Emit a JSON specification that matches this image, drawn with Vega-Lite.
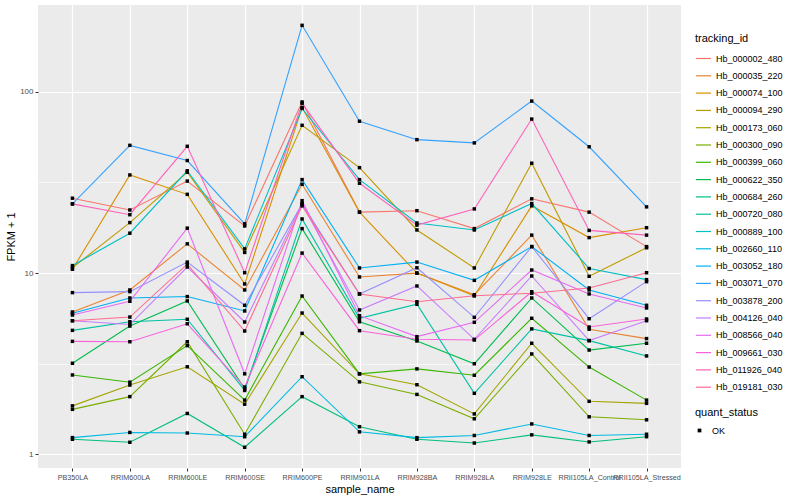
{
"$schema": "https://vega.github.io/schema/vega-lite/v6.json",
"width": 643,
"height": 463,
"padding": {"left": 5, "top": 5, "right": 5, "bottom": 5},
"config": {
  "font": "Liberation Sans",
  "view": {"fill": "#EBEBEB", "stroke": null},
  "axis": {"domain": false, "grid": true, "gridColor": "#FFFFFF", "gridWidth": 1.2, "tickColor": "#333333", "tickSize": 3, "labelColor": "#4D4D4D", "labelFontSize": 8, "titleFontSize": 11, "titleFontWeight": "normal", "titleColor": "#000000", "labelPadding": 2, "titlePadding": 3}
},
"data": {"values": [
{"tracking_id":"Hb_000002_480","sample_name":"PB350LA","FPKM":25.9,"quant_status":"OK"},
{"tracking_id":"Hb_000002_480","sample_name":"RRIM600LA","FPKM":22.3,"quant_status":"OK"},
{"tracking_id":"Hb_000002_480","sample_name":"RRIM600LE","FPKM":32.2,"quant_status":"OK"},
{"tracking_id":"Hb_000002_480","sample_name":"RRIM600SE","FPKM":18.2,"quant_status":"OK"},
{"tracking_id":"Hb_000002_480","sample_name":"RRIM600PE","FPKM":88,"quant_status":"OK"},
{"tracking_id":"Hb_000002_480","sample_name":"RRIM901LA","FPKM":21.7,"quant_status":"OK"},
{"tracking_id":"Hb_000002_480","sample_name":"RRIM928BA","FPKM":22.1,"quant_status":"OK"},
{"tracking_id":"Hb_000002_480","sample_name":"RRIM928LA","FPKM":17.6,"quant_status":"OK"},
{"tracking_id":"Hb_000002_480","sample_name":"RRIM928LE","FPKM":25.7,"quant_status":"OK"},
{"tracking_id":"Hb_000002_480","sample_name":"RRII105LA_Control","FPKM":21.7,"quant_status":"OK"},
{"tracking_id":"Hb_000002_480","sample_name":"RRII105LA_Stressed","FPKM":14.0,"quant_status":"OK"},
{"tracking_id":"Hb_000035_220","sample_name":"PB350LA","FPKM":6.1,"quant_status":"OK"},
{"tracking_id":"Hb_000035_220","sample_name":"RRIM600LA","FPKM":8.07,"quant_status":"OK"},
{"tracking_id":"Hb_000035_220","sample_name":"RRIM600LE","FPKM":14.5,"quant_status":"OK"},
{"tracking_id":"Hb_000035_220","sample_name":"RRIM600SE","FPKM":8.07,"quant_status":"OK"},
{"tracking_id":"Hb_000035_220","sample_name":"RRIM600PE","FPKM":30.9,"quant_status":"OK"},
{"tracking_id":"Hb_000035_220","sample_name":"RRIM901LA","FPKM":9.52,"quant_status":"OK"},
{"tracking_id":"Hb_000035_220","sample_name":"RRIM928BA","FPKM":10.0,"quant_status":"OK"},
{"tracking_id":"Hb_000035_220","sample_name":"RRIM928LA","FPKM":7.6,"quant_status":"OK"},
{"tracking_id":"Hb_000035_220","sample_name":"RRIM928LE","FPKM":16.2,"quant_status":"OK"},
{"tracking_id":"Hb_000035_220","sample_name":"RRII105LA_Control","FPKM":4.9,"quant_status":"OK"},
{"tracking_id":"Hb_000035_220","sample_name":"RRII105LA_Stressed","FPKM":4.35,"quant_status":"OK"},
{"tracking_id":"Hb_000074_100","sample_name":"PB350LA","FPKM":10.5,"quant_status":"OK"},
{"tracking_id":"Hb_000074_100","sample_name":"RRIM600LA","FPKM":34.8,"quant_status":"OK"},
{"tracking_id":"Hb_000074_100","sample_name":"RRIM600LE","FPKM":27.2,"quant_status":"OK"},
{"tracking_id":"Hb_000074_100","sample_name":"RRIM600SE","FPKM":8.71,"quant_status":"OK"},
{"tracking_id":"Hb_000074_100","sample_name":"RRIM600PE","FPKM":82,"quant_status":"OK"},
{"tracking_id":"Hb_000074_100","sample_name":"RRIM901LA","FPKM":21.7,"quant_status":"OK"},
{"tracking_id":"Hb_000074_100","sample_name":"RRIM928BA","FPKM":10.0,"quant_status":"OK"},
{"tracking_id":"Hb_000074_100","sample_name":"RRIM928LA","FPKM":7.5,"quant_status":"OK"},
{"tracking_id":"Hb_000074_100","sample_name":"RRIM928LE","FPKM":23.5,"quant_status":"OK"},
{"tracking_id":"Hb_000074_100","sample_name":"RRII105LA_Control","FPKM":15.7,"quant_status":"OK"},
{"tracking_id":"Hb_000074_100","sample_name":"RRII105LA_Stressed","FPKM":17.8,"quant_status":"OK"},
{"tracking_id":"Hb_000094_290","sample_name":"PB350LA","FPKM":10.7,"quant_status":"OK"},
{"tracking_id":"Hb_000094_290","sample_name":"RRIM600LA","FPKM":19.0,"quant_status":"OK"},
{"tracking_id":"Hb_000094_290","sample_name":"RRIM600LE","FPKM":36.0,"quant_status":"OK"},
{"tracking_id":"Hb_000094_290","sample_name":"RRIM600SE","FPKM":13.0,"quant_status":"OK"},
{"tracking_id":"Hb_000094_290","sample_name":"RRIM600PE","FPKM":65.4,"quant_status":"OK"},
{"tracking_id":"Hb_000094_290","sample_name":"RRIM901LA","FPKM":38.2,"quant_status":"OK"},
{"tracking_id":"Hb_000094_290","sample_name":"RRIM928BA","FPKM":17.3,"quant_status":"OK"},
{"tracking_id":"Hb_000094_290","sample_name":"RRIM928LA","FPKM":10.67,"quant_status":"OK"},
{"tracking_id":"Hb_000094_290","sample_name":"RRIM928LE","FPKM":40.4,"quant_status":"OK"},
{"tracking_id":"Hb_000094_290","sample_name":"RRII105LA_Control","FPKM":9.6,"quant_status":"OK"},
{"tracking_id":"Hb_000094_290","sample_name":"RRII105LA_Stressed","FPKM":13.8,"quant_status":"OK"},
{"tracking_id":"Hb_000173_060","sample_name":"PB350LA","FPKM":1.85,"quant_status":"OK"},
{"tracking_id":"Hb_000173_060","sample_name":"RRIM600LA","FPKM":2.41,"quant_status":"OK"},
{"tracking_id":"Hb_000173_060","sample_name":"RRIM600LE","FPKM":3.04,"quant_status":"OK"},
{"tracking_id":"Hb_000173_060","sample_name":"RRIM600SE","FPKM":1.89,"quant_status":"OK"},
{"tracking_id":"Hb_000173_060","sample_name":"RRIM600PE","FPKM":6.02,"quant_status":"OK"},
{"tracking_id":"Hb_000173_060","sample_name":"RRIM901LA","FPKM":2.78,"quant_status":"OK"},
{"tracking_id":"Hb_000173_060","sample_name":"RRIM928BA","FPKM":2.42,"quant_status":"OK"},
{"tracking_id":"Hb_000173_060","sample_name":"RRIM928LA","FPKM":1.67,"quant_status":"OK"},
{"tracking_id":"Hb_000173_060","sample_name":"RRIM928LE","FPKM":4.10,"quant_status":"OK"},
{"tracking_id":"Hb_000173_060","sample_name":"RRII105LA_Control","FPKM":1.96,"quant_status":"OK"},
{"tracking_id":"Hb_000173_060","sample_name":"RRII105LA_Stressed","FPKM":1.91,"quant_status":"OK"},
{"tracking_id":"Hb_000300_090","sample_name":"PB350LA","FPKM":1.77,"quant_status":"OK"},
{"tracking_id":"Hb_000300_090","sample_name":"RRIM600LA","FPKM":2.08,"quant_status":"OK"},
{"tracking_id":"Hb_000300_090","sample_name":"RRIM600LE","FPKM":4.18,"quant_status":"OK"},
{"tracking_id":"Hb_000300_090","sample_name":"RRIM600SE","FPKM":1.29,"quant_status":"OK"},
{"tracking_id":"Hb_000300_090","sample_name":"RRIM600PE","FPKM":4.65,"quant_status":"OK"},
{"tracking_id":"Hb_000300_090","sample_name":"RRIM901LA","FPKM":2.51,"quant_status":"OK"},
{"tracking_id":"Hb_000300_090","sample_name":"RRIM928BA","FPKM":2.14,"quant_status":"OK"},
{"tracking_id":"Hb_000300_090","sample_name":"RRIM928LA","FPKM":1.57,"quant_status":"OK"},
{"tracking_id":"Hb_000300_090","sample_name":"RRIM928LE","FPKM":3.58,"quant_status":"OK"},
{"tracking_id":"Hb_000300_090","sample_name":"RRII105LA_Control","FPKM":1.61,"quant_status":"OK"},
{"tracking_id":"Hb_000300_090","sample_name":"RRII105LA_Stressed","FPKM":1.55,"quant_status":"OK"},
{"tracking_id":"Hb_000399_060","sample_name":"PB350LA","FPKM":2.74,"quant_status":"OK"},
{"tracking_id":"Hb_000399_060","sample_name":"RRIM600LA","FPKM":2.50,"quant_status":"OK"},
{"tracking_id":"Hb_000399_060","sample_name":"RRIM600LE","FPKM":3.98,"quant_status":"OK"},
{"tracking_id":"Hb_000399_060","sample_name":"RRIM600SE","FPKM":1.99,"quant_status":"OK"},
{"tracking_id":"Hb_000399_060","sample_name":"RRIM600PE","FPKM":7.47,"quant_status":"OK"},
{"tracking_id":"Hb_000399_060","sample_name":"RRIM901LA","FPKM":2.78,"quant_status":"OK"},
{"tracking_id":"Hb_000399_060","sample_name":"RRIM928BA","FPKM":2.96,"quant_status":"OK"},
{"tracking_id":"Hb_000399_060","sample_name":"RRIM928LA","FPKM":2.73,"quant_status":"OK"},
{"tracking_id":"Hb_000399_060","sample_name":"RRIM928LE","FPKM":5.63,"quant_status":"OK"},
{"tracking_id":"Hb_000399_060","sample_name":"RRII105LA_Control","FPKM":3.03,"quant_status":"OK"},
{"tracking_id":"Hb_000399_060","sample_name":"RRII105LA_Stressed","FPKM":1.99,"quant_status":"OK"},
{"tracking_id":"Hb_000622_350","sample_name":"PB350LA","FPKM":3.18,"quant_status":"OK"},
{"tracking_id":"Hb_000622_350","sample_name":"RRIM600LA","FPKM":5.1,"quant_status":"OK"},
{"tracking_id":"Hb_000622_350","sample_name":"RRIM600LE","FPKM":7.02,"quant_status":"OK"},
{"tracking_id":"Hb_000622_350","sample_name":"RRIM600SE","FPKM":2.3,"quant_status":"OK"},
{"tracking_id":"Hb_000622_350","sample_name":"RRIM600PE","FPKM":17.6,"quant_status":"OK"},
{"tracking_id":"Hb_000622_350","sample_name":"RRIM901LA","FPKM":5.39,"quant_status":"OK"},
{"tracking_id":"Hb_000622_350","sample_name":"RRIM928BA","FPKM":4.22,"quant_status":"OK"},
{"tracking_id":"Hb_000622_350","sample_name":"RRIM928LA","FPKM":3.16,"quant_status":"OK"},
{"tracking_id":"Hb_000622_350","sample_name":"RRIM928LE","FPKM":7.29,"quant_status":"OK"},
{"tracking_id":"Hb_000622_350","sample_name":"RRII105LA_Control","FPKM":3.76,"quant_status":"OK"},
{"tracking_id":"Hb_000622_350","sample_name":"RRII105LA_Stressed","FPKM":4.10,"quant_status":"OK"},
{"tracking_id":"Hb_000684_260","sample_name":"PB350LA","FPKM":1.21,"quant_status":"OK"},
{"tracking_id":"Hb_000684_260","sample_name":"RRIM600LA","FPKM":1.165,"quant_status":"OK"},
{"tracking_id":"Hb_000684_260","sample_name":"RRIM600LE","FPKM":1.68,"quant_status":"OK"},
{"tracking_id":"Hb_000684_260","sample_name":"RRIM600SE","FPKM":1.093,"quant_status":"OK"},
{"tracking_id":"Hb_000684_260","sample_name":"RRIM600PE","FPKM":2.08,"quant_status":"OK"},
{"tracking_id":"Hb_000684_260","sample_name":"RRIM901LA","FPKM":1.42,"quant_status":"OK"},
{"tracking_id":"Hb_000684_260","sample_name":"RRIM928BA","FPKM":1.21,"quant_status":"OK"},
{"tracking_id":"Hb_000684_260","sample_name":"RRIM928LA","FPKM":1.154,"quant_status":"OK"},
{"tracking_id":"Hb_000684_260","sample_name":"RRIM928LE","FPKM":1.28,"quant_status":"OK"},
{"tracking_id":"Hb_000684_260","sample_name":"RRII105LA_Control","FPKM":1.17,"quant_status":"OK"},
{"tracking_id":"Hb_000684_260","sample_name":"RRII105LA_Stressed","FPKM":1.25,"quant_status":"OK"},
{"tracking_id":"Hb_000720_080","sample_name":"PB350LA","FPKM":4.83,"quant_status":"OK"},
{"tracking_id":"Hb_000720_080","sample_name":"RRIM600LA","FPKM":5.39,"quant_status":"OK"},
{"tracking_id":"Hb_000720_080","sample_name":"RRIM600LE","FPKM":5.56,"quant_status":"OK"},
{"tracking_id":"Hb_000720_080","sample_name":"RRIM600SE","FPKM":2.25,"quant_status":"OK"},
{"tracking_id":"Hb_000720_080","sample_name":"RRIM600PE","FPKM":19.9,"quant_status":"OK"},
{"tracking_id":"Hb_000720_080","sample_name":"RRIM901LA","FPKM":5.63,"quant_status":"OK"},
{"tracking_id":"Hb_000720_080","sample_name":"RRIM928BA","FPKM":6.73,"quant_status":"OK"},
{"tracking_id":"Hb_000720_080","sample_name":"RRIM928LA","FPKM":2.17,"quant_status":"OK"},
{"tracking_id":"Hb_000720_080","sample_name":"RRIM928LE","FPKM":4.92,"quant_status":"OK"},
{"tracking_id":"Hb_000720_080","sample_name":"RRII105LA_Control","FPKM":4.24,"quant_status":"OK"},
{"tracking_id":"Hb_000720_080","sample_name":"RRII105LA_Stressed","FPKM":3.49,"quant_status":"OK"},
{"tracking_id":"Hb_000889_100","sample_name":"PB350LA","FPKM":11.0,"quant_status":"OK"},
{"tracking_id":"Hb_000889_100","sample_name":"RRIM600LA","FPKM":16.6,"quant_status":"OK"},
{"tracking_id":"Hb_000889_100","sample_name":"RRIM600LE","FPKM":36.7,"quant_status":"OK"},
{"tracking_id":"Hb_000889_100","sample_name":"RRIM600SE","FPKM":13.6,"quant_status":"OK"},
{"tracking_id":"Hb_000889_100","sample_name":"RRIM600PE","FPKM":81,"quant_status":"OK"},
{"tracking_id":"Hb_000889_100","sample_name":"RRIM901LA","FPKM":32.8,"quant_status":"OK"},
{"tracking_id":"Hb_000889_100","sample_name":"RRIM928BA","FPKM":18.9,"quant_status":"OK"},
{"tracking_id":"Hb_000889_100","sample_name":"RRIM928LA","FPKM":17.3,"quant_status":"OK"},
{"tracking_id":"Hb_000889_100","sample_name":"RRIM928LE","FPKM":24.2,"quant_status":"OK"},
{"tracking_id":"Hb_000889_100","sample_name":"RRII105LA_Control","FPKM":10.6,"quant_status":"OK"},
{"tracking_id":"Hb_000889_100","sample_name":"RRII105LA_Stressed","FPKM":9.2,"quant_status":"OK"},
{"tracking_id":"Hb_002660_110","sample_name":"PB350LA","FPKM":1.236,"quant_status":"OK"},
{"tracking_id":"Hb_002660_110","sample_name":"RRIM600LA","FPKM":1.32,"quant_status":"OK"},
{"tracking_id":"Hb_002660_110","sample_name":"RRIM600LE","FPKM":1.31,"quant_status":"OK"},
{"tracking_id":"Hb_002660_110","sample_name":"RRIM600SE","FPKM":1.25,"quant_status":"OK"},
{"tracking_id":"Hb_002660_110","sample_name":"RRIM600PE","FPKM":2.68,"quant_status":"OK"},
{"tracking_id":"Hb_002660_110","sample_name":"RRIM901LA","FPKM":1.33,"quant_status":"OK"},
{"tracking_id":"Hb_002660_110","sample_name":"RRIM928BA","FPKM":1.235,"quant_status":"OK"},
{"tracking_id":"Hb_002660_110","sample_name":"RRIM928LA","FPKM":1.27,"quant_status":"OK"},
{"tracking_id":"Hb_002660_110","sample_name":"RRIM928LE","FPKM":1.47,"quant_status":"OK"},
{"tracking_id":"Hb_002660_110","sample_name":"RRII105LA_Control","FPKM":1.27,"quant_status":"OK"},
{"tracking_id":"Hb_002660_110","sample_name":"RRII105LA_Stressed","FPKM":1.29,"quant_status":"OK"},
{"tracking_id":"Hb_003052_180","sample_name":"PB350LA","FPKM":6.0,"quant_status":"OK"},
{"tracking_id":"Hb_003052_180","sample_name":"RRIM600LA","FPKM":7.29,"quant_status":"OK"},
{"tracking_id":"Hb_003052_180","sample_name":"RRIM600LE","FPKM":7.42,"quant_status":"OK"},
{"tracking_id":"Hb_003052_180","sample_name":"RRIM600SE","FPKM":6.18,"quant_status":"OK"},
{"tracking_id":"Hb_003052_180","sample_name":"RRIM600PE","FPKM":32.8,"quant_status":"OK"},
{"tracking_id":"Hb_003052_180","sample_name":"RRIM901LA","FPKM":10.67,"quant_status":"OK"},
{"tracking_id":"Hb_003052_180","sample_name":"RRIM928BA","FPKM":11.5,"quant_status":"OK"},
{"tracking_id":"Hb_003052_180","sample_name":"RRIM928LA","FPKM":9.12,"quant_status":"OK"},
{"tracking_id":"Hb_003052_180","sample_name":"RRIM928LE","FPKM":14.0,"quant_status":"OK"},
{"tracking_id":"Hb_003052_180","sample_name":"RRII105LA_Control","FPKM":8.07,"quant_status":"OK"},
{"tracking_id":"Hb_003052_180","sample_name":"RRII105LA_Stressed","FPKM":6.64,"quant_status":"OK"},
{"tracking_id":"Hb_003071_070","sample_name":"PB350LA","FPKM":24.1,"quant_status":"OK"},
{"tracking_id":"Hb_003071_070","sample_name":"RRIM600LA","FPKM":50.7,"quant_status":"OK"},
{"tracking_id":"Hb_003071_070","sample_name":"RRIM600LE","FPKM":41.8,"quant_status":"OK"},
{"tracking_id":"Hb_003071_070","sample_name":"RRIM600SE","FPKM":18.7,"quant_status":"OK"},
{"tracking_id":"Hb_003071_070","sample_name":"RRIM600PE","FPKM":233,"quant_status":"OK"},
{"tracking_id":"Hb_003071_070","sample_name":"RRIM901LA","FPKM":68.9,"quant_status":"OK"},
{"tracking_id":"Hb_003071_070","sample_name":"RRIM928BA","FPKM":54.5,"quant_status":"OK"},
{"tracking_id":"Hb_003071_070","sample_name":"RRIM928LA","FPKM":52.3,"quant_status":"OK"},
{"tracking_id":"Hb_003071_070","sample_name":"RRIM928LE","FPKM":89,"quant_status":"OK"},
{"tracking_id":"Hb_003071_070","sample_name":"RRII105LA_Control","FPKM":49.8,"quant_status":"OK"},
{"tracking_id":"Hb_003071_070","sample_name":"RRII105LA_Stressed","FPKM":23.2,"quant_status":"OK"},
{"tracking_id":"Hb_003878_200","sample_name":"PB350LA","FPKM":7.8,"quant_status":"OK"},
{"tracking_id":"Hb_003878_200","sample_name":"RRIM600LA","FPKM":7.9,"quant_status":"OK"},
{"tracking_id":"Hb_003878_200","sample_name":"RRIM600LE","FPKM":11.5,"quant_status":"OK"},
{"tracking_id":"Hb_003878_200","sample_name":"RRIM600SE","FPKM":6.64,"quant_status":"OK"},
{"tracking_id":"Hb_003878_200","sample_name":"RRIM600PE","FPKM":24.1,"quant_status":"OK"},
{"tracking_id":"Hb_003878_200","sample_name":"RRIM901LA","FPKM":7.67,"quant_status":"OK"},
{"tracking_id":"Hb_003878_200","sample_name":"RRIM928BA","FPKM":10.7,"quant_status":"OK"},
{"tracking_id":"Hb_003878_200","sample_name":"RRIM928LA","FPKM":5.70,"quant_status":"OK"},
{"tracking_id":"Hb_003878_200","sample_name":"RRIM928LE","FPKM":14.0,"quant_status":"OK"},
{"tracking_id":"Hb_003878_200","sample_name":"RRII105LA_Control","FPKM":5.60,"quant_status":"OK"},
{"tracking_id":"Hb_003878_200","sample_name":"RRII105LA_Stressed","FPKM":8.97,"quant_status":"OK"},
{"tracking_id":"Hb_004126_040","sample_name":"PB350LA","FPKM":5.46,"quant_status":"OK"},
{"tracking_id":"Hb_004126_040","sample_name":"RRIM600LA","FPKM":5.2,"quant_status":"OK"},
{"tracking_id":"Hb_004126_040","sample_name":"RRIM600LE","FPKM":10.8,"quant_status":"OK"},
{"tracking_id":"Hb_004126_040","sample_name":"RRIM600SE","FPKM":5.37,"quant_status":"OK"},
{"tracking_id":"Hb_004126_040","sample_name":"RRIM600PE","FPKM":24.1,"quant_status":"OK"},
{"tracking_id":"Hb_004126_040","sample_name":"RRIM901LA","FPKM":6.26,"quant_status":"OK"},
{"tracking_id":"Hb_004126_040","sample_name":"RRIM928BA","FPKM":8.49,"quant_status":"OK"},
{"tracking_id":"Hb_004126_040","sample_name":"RRIM928LA","FPKM":4.31,"quant_status":"OK"},
{"tracking_id":"Hb_004126_040","sample_name":"RRIM928LE","FPKM":9.64,"quant_status":"OK"},
{"tracking_id":"Hb_004126_040","sample_name":"RRII105LA_Control","FPKM":4.24,"quant_status":"OK"},
{"tracking_id":"Hb_004126_040","sample_name":"RRII105LA_Stressed","FPKM":5.46,"quant_status":"OK"},
{"tracking_id":"Hb_008566_040","sample_name":"PB350LA","FPKM":5.87,"quant_status":"OK"},
{"tracking_id":"Hb_008566_040","sample_name":"RRIM600LA","FPKM":6.99,"quant_status":"OK"},
{"tracking_id":"Hb_008566_040","sample_name":"RRIM600LE","FPKM":17.7,"quant_status":"OK"},
{"tracking_id":"Hb_008566_040","sample_name":"RRIM600SE","FPKM":2.78,"quant_status":"OK"},
{"tracking_id":"Hb_008566_040","sample_name":"RRIM600PE","FPKM":25.1,"quant_status":"OK"},
{"tracking_id":"Hb_008566_040","sample_name":"RRIM901LA","FPKM":5.82,"quant_status":"OK"},
{"tracking_id":"Hb_008566_040","sample_name":"RRIM928BA","FPKM":4.46,"quant_status":"OK"},
{"tracking_id":"Hb_008566_040","sample_name":"RRIM928LA","FPKM":5.35,"quant_status":"OK"},
{"tracking_id":"Hb_008566_040","sample_name":"RRIM928LE","FPKM":10.4,"quant_status":"OK"},
{"tracking_id":"Hb_008566_040","sample_name":"RRII105LA_Control","FPKM":7.67,"quant_status":"OK"},
{"tracking_id":"Hb_008566_040","sample_name":"RRII105LA_Stressed","FPKM":6.42,"quant_status":"OK"},
{"tracking_id":"Hb_009661_030","sample_name":"PB350LA","FPKM":4.2,"quant_status":"OK"},
{"tracking_id":"Hb_009661_030","sample_name":"RRIM600LA","FPKM":4.18,"quant_status":"OK"},
{"tracking_id":"Hb_009661_030","sample_name":"RRIM600LE","FPKM":5.25,"quant_status":"OK"},
{"tracking_id":"Hb_009661_030","sample_name":"RRIM600SE","FPKM":2.35,"quant_status":"OK"},
{"tracking_id":"Hb_009661_030","sample_name":"RRIM600PE","FPKM":12.9,"quant_status":"OK"},
{"tracking_id":"Hb_009661_030","sample_name":"RRIM901LA","FPKM":4.81,"quant_status":"OK"},
{"tracking_id":"Hb_009661_030","sample_name":"RRIM928BA","FPKM":4.31,"quant_status":"OK"},
{"tracking_id":"Hb_009661_030","sample_name":"RRIM928LA","FPKM":4.27,"quant_status":"OK"},
{"tracking_id":"Hb_009661_030","sample_name":"RRIM928LE","FPKM":7.89,"quant_status":"OK"},
{"tracking_id":"Hb_009661_030","sample_name":"RRII105LA_Control","FPKM":5.04,"quant_status":"OK"},
{"tracking_id":"Hb_009661_030","sample_name":"RRII105LA_Stressed","FPKM":5.58,"quant_status":"OK"},
{"tracking_id":"Hb_011926_040","sample_name":"PB350LA","FPKM":24.1,"quant_status":"OK"},
{"tracking_id":"Hb_011926_040","sample_name":"RRIM600LA","FPKM":21.0,"quant_status":"OK"},
{"tracking_id":"Hb_011926_040","sample_name":"RRIM600LE","FPKM":50.1,"quant_status":"OK"},
{"tracking_id":"Hb_011926_040","sample_name":"RRIM600SE","FPKM":10.05,"quant_status":"OK"},
{"tracking_id":"Hb_011926_040","sample_name":"RRIM600PE","FPKM":86.5,"quant_status":"OK"},
{"tracking_id":"Hb_011926_040","sample_name":"RRIM901LA","FPKM":31.3,"quant_status":"OK"},
{"tracking_id":"Hb_011926_040","sample_name":"RRIM928BA","FPKM":18.4,"quant_status":"OK"},
{"tracking_id":"Hb_011926_040","sample_name":"RRIM928LA","FPKM":22.6,"quant_status":"OK"},
{"tracking_id":"Hb_011926_040","sample_name":"RRIM928LE","FPKM":70.8,"quant_status":"OK"},
{"tracking_id":"Hb_011926_040","sample_name":"RRII105LA_Control","FPKM":17.2,"quant_status":"OK"},
{"tracking_id":"Hb_011926_040","sample_name":"RRII105LA_Stressed","FPKM":16.2,"quant_status":"OK"},
{"tracking_id":"Hb_019181_030","sample_name":"PB350LA","FPKM":5.46,"quant_status":"OK"},
{"tracking_id":"Hb_019181_030","sample_name":"RRIM600LA","FPKM":5.72,"quant_status":"OK"},
{"tracking_id":"Hb_019181_030","sample_name":"RRIM600LE","FPKM":11.2,"quant_status":"OK"},
{"tracking_id":"Hb_019181_030","sample_name":"RRIM600SE","FPKM":4.79,"quant_status":"OK"},
{"tracking_id":"Hb_019181_030","sample_name":"RRIM600PE","FPKM":23.5,"quant_status":"OK"},
{"tracking_id":"Hb_019181_030","sample_name":"RRIM901LA","FPKM":7.67,"quant_status":"OK"},
{"tracking_id":"Hb_019181_030","sample_name":"RRIM928BA","FPKM":6.95,"quant_status":"OK"},
{"tracking_id":"Hb_019181_030","sample_name":"RRIM928LA","FPKM":7.5,"quant_status":"OK"},
{"tracking_id":"Hb_019181_030","sample_name":"RRIM928LE","FPKM":7.74,"quant_status":"OK"},
{"tracking_id":"Hb_019181_030","sample_name":"RRII105LA_Control","FPKM":8.28,"quant_status":"OK"},
{"tracking_id":"Hb_019181_030","sample_name":"RRII105LA_Stressed","FPKM":10.05,"quant_status":"OK"}
]},
"layer": [
{
  "mark": {"type": "line", "strokeWidth": 1.1},
  "encoding": {
    "x": {"field": "sample_name", "type": "nominal", "sort": ["PB350LA","RRIM600LA","RRIM600LE","RRIM600SE","RRIM600PE","RRIM901LA","RRIM928BA","RRIM928LA","RRIM928LE","RRII105LA_Control","RRII105LA_Stressed"], "scale": {"type": "point", "padding": 0.6}, "axis": {"title": "sample_name", "labelAngle": 0, "labelOverlap": false, "labelFontSize": 7.2}},
    "y": {"field": "FPKM", "type": "quantitative", "scale": {"type": "log", "domain": [0.84, 301.7], "nice": false, "zero": false}, "axis": {"title": "FPKM + 1", "values": [1, 10, 100], "format": "d"}},
    "color": {"field": "tracking_id", "type": "nominal",
      "scale": {"domain": ["Hb_000002_480","Hb_000035_220","Hb_000074_100","Hb_000094_290","Hb_000173_060","Hb_000300_090","Hb_000399_060","Hb_000622_350","Hb_000684_260","Hb_000720_080","Hb_000889_100","Hb_002660_110","Hb_003052_180","Hb_003071_070","Hb_003878_200","Hb_004126_040","Hb_008566_040","Hb_009661_030","Hb_011926_040","Hb_019181_030"],
                "range": ["#F8766D","#EA8331","#D89000","#C09B00","#A3A500","#7CAE00","#39B600","#00BB4E","#00BF7D","#00C1A3","#00BFC4","#00BAE0","#00B0F6","#35A2FF","#9590FF","#C77CFF","#E76BF3","#FA62DB","#FF62BC","#FF6C91"]},
      "legend": {"title": "tracking_id", "orient": "none", "legendX": 657, "legendY": 28, "symbolType": "stroke", "symbolSize": 225, "symbolStrokeWidth": 1.2, "rowPadding": 3.3, "labelFontSize": 9, "labelColor": "#000000", "titleFontSize": 11, "titleFontWeight": "normal", "titleColor": "#000000", "titlePadding": 6, "labelOffset": 4, "padding": 0}
    }
  }
},
{
  "mark": {"type": "point", "filled": true, "color": "#000000", "size": 12, "opacity": 1},
  "encoding": {
    "x": {"field": "sample_name", "type": "nominal", "sort": ["PB350LA","RRIM600LA","RRIM600LE","RRIM600SE","RRIM600PE","RRIM901LA","RRIM928BA","RRIM928LA","RRIM928LE","RRII105LA_Control","RRII105LA_Stressed"]},
    "y": {"field": "FPKM", "type": "quantitative", "axis": {"values": [0.3162, 3.1623, 31.623], "grid": true, "gridWidth": 0.6, "labels": false, "ticks": false, "domain": false, "title": null, "orient": "left"}},
    "shape": {"field": "quant_status", "type": "nominal", "scale": {"range": ["square"]},
      "legend": {"title": "quant_status", "orient": "none", "legendX": 657, "legendY": 402, "symbolSize": 14, "symbolFillColor": "#000000", "symbolStrokeColor": "#000000", "labelFontSize": 9, "labelColor": "#000000", "titleFontSize": 11, "titleFontWeight": "normal", "titleColor": "#000000", "titlePadding": 8, "labelOffset": 8, "padding": 0}
    }
  }
}
],
"resolve": {"axis": {"y": "independent"}}
}
